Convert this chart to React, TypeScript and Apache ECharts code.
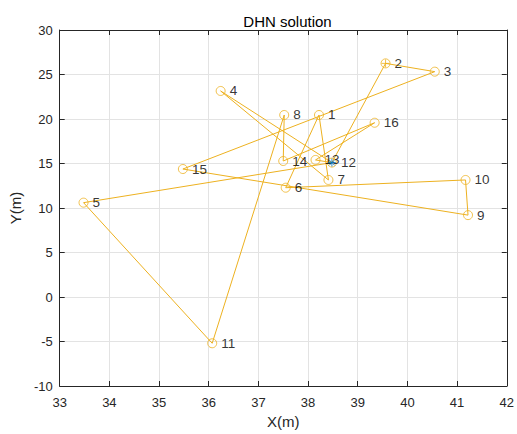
import React, { useEffect, useRef } from "react";
import * as echarts from "echarts";

// Node coordinates (metres), node n is at index n - 1
const nodeX = [38.22, 39.56, 40.55, 36.24, 33.48, 37.55, 38.41, 37.52, 41.22, 41.17, 36.07, 38.48, 38.15, 37.5, 35.48, 39.34];
const nodeY = [20.45, 26.25, 25.32, 23.15, 10.6, 12.28, 13.15, 20.45, 9.2, 13.15, -5.2, 15.1, 15.4, 15.28, 14.38, 19.58];

// Two loops leaving and returning to node 12
const routeA = [12, 2, 3, 15, 9, 10, 6, 1, 7, 4, 12];
const routeB = [12, 5, 11, 8, 14, 16, 13, 12];

const startNode = 2;
const sourceNode = 12;

const xTicks = { min: 33, max: 42, step: 1 };
const yTicks = { min: -10, max: 30, step: 5 };

const ORANGE = "#EDB120";
const BLUE = "#0072BD";
const AXIS = "#262626";
const FONT = "'Liberation Sans', Arial, Helvetica, sans-serif";

const pt = (n: number) => [nodeX[n - 1], nodeY[n - 1]];

export default function App() {
  const ref = useRef<HTMLDivElement>(null);

  useEffect(() => {
    if (!ref.current) return;
    const chart = echarts.init(ref.current, undefined, { renderer: "svg" });

    const axisCommon = {
      type: "value" as const,
      axisLine: { show: true, onZero: false, lineStyle: { color: AXIS, width: 1 } },
      axisTick: { show: true, inside: true, length: 5, lineStyle: { color: AXIS } },
    };

    const routeSeries = (route: number[]) => ({
      type: "line",
      data: route.map(pt),
      showSymbol: false,
      symbol: "none",
      lineStyle: { color: ORANGE, width: 1 },
      silent: true,
      z: 2,
    });

    chart.setOption({
      animation: false,
      backgroundColor: "#ffffff",
      title: {
        text: "DHN solution",
        left: 282.5,
        top: 9,
        textAlign: "center",
        textStyle: { fontFamily: FONT, fontSize: 15, fontWeight: "normal", color: "#000" },
      },
      grid: { left: 57, right: 9, top: 30, bottom: 48 },
      xAxis: [
        {
          ...axisCommon,
          position: "bottom",
          min: xTicks.min,
          max: xTicks.max,
          interval: xTicks.step,
          axisLabel: { color: AXIS, fontFamily: FONT, fontSize: 13, margin: 10 },
          splitLine: { show: true, lineStyle: { color: "#e3e3e3", width: 1 } },
          name: "X(m)",
          nameLocation: "middle",
          nameGap: 28,
          nameTextStyle: { color: AXIS, fontFamily: FONT, fontSize: 15 },
        },
        {
          ...axisCommon,
          position: "top",
          min: xTicks.min,
          max: xTicks.max,
          interval: xTicks.step,
          axisLabel: { show: false },
          splitLine: { show: false },
        },
      ],
      yAxis: [
        {
          ...axisCommon,
          position: "left",
          min: yTicks.min,
          max: yTicks.max,
          interval: yTicks.step,
          axisLabel: { color: AXIS, fontFamily: FONT, fontSize: 13, margin: 7 },
          splitLine: { show: true, lineStyle: { color: "#e3e3e3", width: 1 } },
          name: "Y(m)",
          nameLocation: "middle",
          nameGap: 25,
          nameRotate: 90,
          nameTextStyle: { color: AXIS, fontFamily: FONT, fontSize: 15 },
        },
        {
          ...axisCommon,
          position: "right",
          min: yTicks.min,
          max: yTicks.max,
          interval: yTicks.step,
          axisLabel: { show: false },
          splitLine: { show: false },
        },
      ],
      series: [
        routeSeries(routeA),
        routeSeries(routeB),
        {
          type: "scatter",
          data: nodeX.map((x, i) => ({ value: [x, nodeY[i]], name: String(i + 1) })),
          symbol: "circle",
          symbolSize: 9,
          itemStyle: { color: "transparent", borderColor: ORANGE, borderWidth: 1 },
          label: {
            show: true,
            position: "right",
            distance: 4,
            formatter: (p: any) => p.name,
            color: "#000",
            fontFamily: FONT,
            fontSize: 13.5,
          },
          silent: true,
          z: 3,
        },
        {
          type: "scatter",
          data: [pt(startNode)],
          symbol: "path://M4,0L4,8M0,4L8,4",
          symbolSize: 8,
          itemStyle: { color: "transparent", borderColor: ORANGE, borderWidth: 1 },
          silent: true,
          z: 4,
        },
        {
          type: "scatter",
          data: [pt(sourceNode)],
          symbol: "path://M4,0L4,8M0,4L8,4M1.2,1.2L6.8,6.8M1.2,6.8L6.8,1.2",
          symbolSize: 8,
          itemStyle: { color: "transparent", borderColor: BLUE, borderWidth: 1 },
          silent: true,
          z: 4,
        },
      ],
    });

    return () => chart.dispose();
  }, []);

  return <div ref={ref} style={{ width: 517, height: 434, position: "absolute", left: 0, top: 0 }} />;
}
